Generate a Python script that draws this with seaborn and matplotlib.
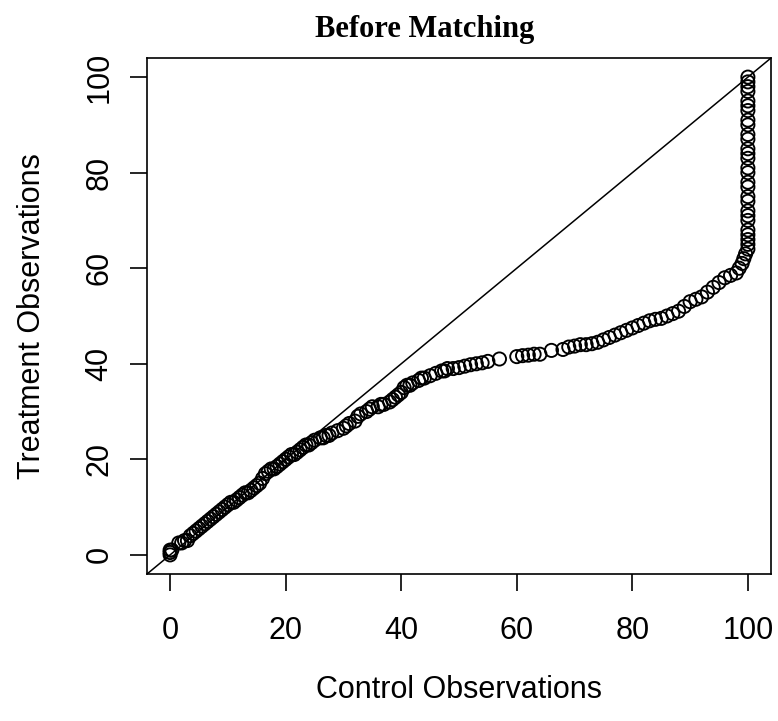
import matplotlib
matplotlib.use("Agg")
import matplotlib.pyplot as plt
import seaborn as sns
import pandas as pd

# Sorted quantiles (QQ plot): control vs treatment
control = [
    # near-diagonal part
    0, 0, 0, 0.3, 1.5, 2, 2.5, 3, 3.5, 4, 4.5, 5, 5.5, 6, 6.5, 7, 7.5, 8, 8.5, 9, 9.5, 10,
    10.5, 11, 11.5, 12, 12.5, 13, 13.5, 14, 14.5, 15, 15.5, 16, 16.5, 17, 17.5, 18, 18.5, 19,
    19.5, 20, 20.5, 21, 21.5, 22, 22.5, 23, 23.5, 24, 24.5, 25,
    # bending below the diagonal
    26, 26.5, 27, 27.5, 28, 29, 30, 30.5, 31, 32, 32.5, 33, 34, 34.5, 35, 36, 36.5, 37, 38,
    38.5, 39, 39.5, 40,
    # flattening
    40.5, 41, 41.5, 42, 43, 43.5, 44, 45, 46, 47, 47.5, 48, 49, 50, 51, 52, 53, 54, 55, 57,
    # slow rise
    60, 61, 62, 63, 64, 66, 68, 69, 70, 71, 72, 73, 74, 75, 76, 77, 78, 79, 80, 81, 82, 83,
    84, 85, 86, 87, 88, 89, 90, 91, 92, 93, 94, 95, 96, 97, 98, 98.5, 99, 99.3, 99.6,
    # vertical column at 100
    100, 100, 100, 100, 100, 100, 100, 100, 100, 100, 100, 100, 100, 100, 100, 100, 100, 100,
    100, 100, 100, 100, 100, 100, 100, 100, 100, 100,
]
treatment = [
    0, 0.5, 1, 1, 2.5, 2.5, 3, 3, 4, 4.5, 5, 5.5, 6, 6.5, 7, 7.5, 8, 8.5, 9, 9.5, 10, 10.5,
    11, 11, 11.5, 12, 12.5, 13, 13, 13.5, 14, 14.5, 15, 16, 17, 17.5, 18, 18, 18.5, 19,
    19.5, 20, 20.5, 21, 21, 21.5, 22, 22.5, 23, 23, 23.5, 24,
    24.5, 24.5, 25, 25, 25.5, 26, 26.5, 27, 27.5, 28, 29, 29.5, 30, 30.5, 31, 31, 31.5, 31.5,
    32, 32.5, 33, 33.5, 34,
    35, 35.5, 35.5, 36, 36.5, 37, 37, 37.5, 38, 38.5, 38.5, 39, 39, 39.2, 39.5, 39.8, 40,
    40.2, 40.5, 41,
    41.5, 41.7, 41.8, 42, 42, 42.8, 43, 43.5, 43.7, 44, 44, 44.2, 44.5, 45, 45.5, 46, 46.5,
    47, 47.5, 48, 48.5, 49, 49.3, 49.5, 50, 50.5, 51, 52, 53, 53.5, 54, 55, 56, 57, 58, 58.5,
    59, 60, 61, 62, 63,
    64, 65, 66, 67, 68, 70, 71, 72, 74, 75, 77, 78, 80, 81, 83, 84, 85, 87, 88, 90, 91, 93,
    94, 95, 97, 98, 99, 100,
]
assert len(control) == len(treatment)

ticks = [0, 20, 40, 60, 80, 100]
tick_labels = ["0", "20", "40", "60", "80", "100"]
title = "Before Matching"
xlabel = "Control Observations"
ylabel = "Treatment Observations"

sns.set_style("white")
plt.rcParams["font.family"] = ["Liberation Sans", "DejaVu Sans"]
plt.rcParams["text.color"] = "black"

W, H = 778, 721
fig = plt.figure(figsize=(W / 100, H / 100), dpi=100)
ax = fig.add_axes([147 / W, 1 - 574 / H, (771 - 147) / W, (574 - 58) / H])

df = pd.DataFrame({"control": control, "treatment": treatment})
sns.scatterplot(data=df, x="control", y="treatment", ax=ax, marker="o",
                facecolor="none", edgecolor="black", linewidth=1.35, s=90, zorder=3)
ax.axline((0, 0), slope=1, color="black", lw=1.1, zorder=2)

ax.set_xlim(-4, 104)
ax.set_ylim(-4, 104)
for sp in ax.spines.values():
    sp.set_visible(True)
    sp.set_color("black")
    sp.set_linewidth(1.2)

ax.set_xticks(ticks)
ax.set_xticklabels(tick_labels)
ax.set_yticks(ticks)
ax.set_yticklabels(tick_labels, rotation=90, va="center")
ax.tick_params(axis="both", direction="out", length=12.5, width=1.2, color="black",
               labelsize=22, labelcolor="black", bottom=True, left=True)
ax.tick_params(axis="x", pad=18)
ax.tick_params(axis="y", pad=11)
ax.set_xlabel("")
ax.set_ylabel("")

fig.text(425 / W, 1 - 37 / H, title, ha="center", va="baseline", color="black",
         fontsize=22, fontweight="bold", family=["Liberation Serif", "DejaVu Serif"])
fig.text(459 / W, 1 - 690 / H, xlabel, ha="center", va="center", fontsize=22, color="black")
fig.text(32 / W, 1 - 316 / H, ylabel, ha="center", va="center", rotation=90, fontsize=22,
         color="black")

fig.savefig("out.png", dpi=100)
